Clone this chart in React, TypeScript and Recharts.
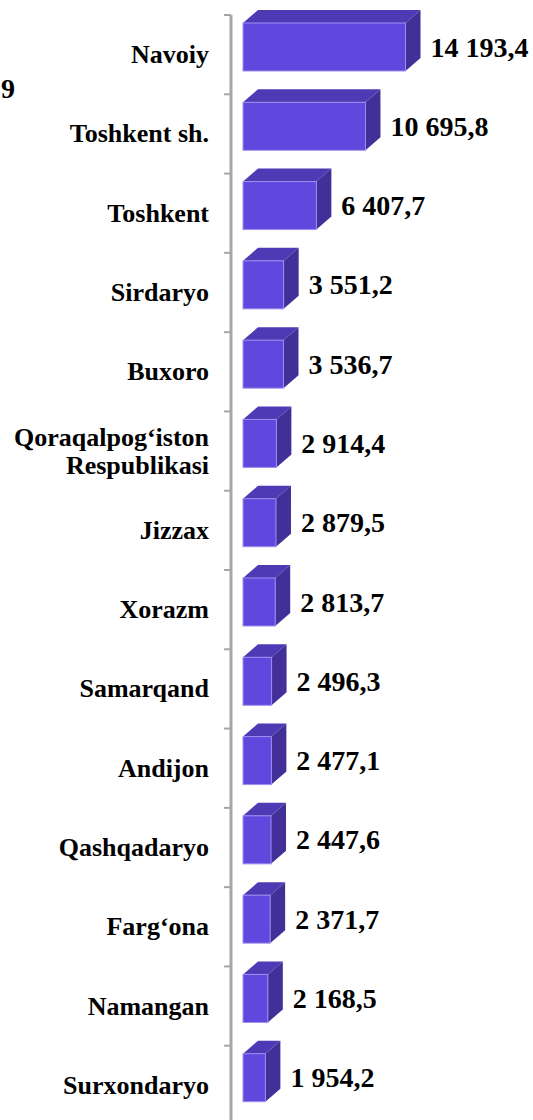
import React from "react";
import { BarChart, Bar, XAxis, YAxis, LabelList } from "recharts";

const categories: string[] = [
  "Navoiy",
  "Toshkent sh.",
  "Toshkent",
  "Sirdaryo",
  "Buxoro",
  "Qoraqalpog‘iston\nRespublikasi",
  "Jizzax",
  "Xorazm",
  "Samarqand",
  "Andijon",
  "Qashqadaryo",
  "Farg‘ona",
  "Namangan",
  "Surxondaryo",
];

const values: number[] = [
  14193.4, 10695.8, 6407.7, 3551.2, 3536.7, 2914.4, 2879.5, 2813.7, 2496.3,
  2477.1, 2447.6, 2371.7, 2168.5, 1954.2,
];

const clippedTitle = "9";

const data = categories.map((name, i) => ({ name, value: values[i] }));

const W = 533;
const H = 1125;
const MARGIN = { top: 15, right: 61, bottom: 0, left: 0 };
const Y_AXIS_W = 231;
const AXIS_X = MARGIN.left + Y_AXIS_W;
const BAND = (H - MARGIN.top - MARGIN.bottom) / categories.length;
const FONT = "'Liberation Serif', 'DejaVu Serif', serif";

const DX = 15;
const DY = 13;
const LIFT = 8;

const fmt = (v: number) => {
  const [int, dec] = v.toFixed(1).split(".");
  return int.replace(/\B(?=(\d{3})+(?!\d))/g, " ") + "," + dec;
};

const Bar3D = (props: any) => {
  const { x, y: y0, width, height } = props;
  const y = y0 - LIFT;
  const top = `${x},${y} ${x + DX},${y - DY} ${x + width + DX},${y - DY} ${x + width},${y}`;
  const side = `${x + width},${y} ${x + width + DX},${y - DY} ${x + width + DX},${y + height - DY} ${x + width},${y + height}`;
  return (
    <g>
      <polygon points={top} fill="#4F3AB6" />
      <polygon points={side} fill="#422F98" />
      <rect x={x} y={y} width={width} height={height} fill="#6047DD" stroke="#9D8EF2" strokeWidth={1} />
    </g>
  );
};

const ValueLabel = (props: any) => {
  const { x, y, width, height, value } = props;
  return (
    <text
      x={x + width + DX + 10}
      y={y + height / 2 - LIFT}
      dominantBaseline="central"
      fontFamily={FONT}
      fontWeight="bold"
      fontSize={28}
      fill="#000"
    >
      {fmt(value)}
    </text>
  );
};

const CategoryTick = (props: any) => {
  const { y, payload } = props;
  const lines: string[] = String(payload.value).split("\n");
  const lh = 28;
  const start = -((lines.length - 1) / 2) * lh;
  return (
    <g>
      <line x1={AXIS_X - 7} x2={AXIS_X} y1={y - BAND / 2} y2={y - BAND / 2} stroke="#A6A6A6" strokeWidth={2} />
      <text
        x={AXIS_X - 22}
        y={y}
        textAnchor="end"
        fontFamily={FONT}
        fontWeight="bold"
        fontSize={26}
        fill="#000"
      >
        {lines.map((l, i) => (
          <tspan key={i} x={AXIS_X - 22} y={y + start + i * lh} dominantBaseline="central">
            {l}
          </tspan>
        ))}
      </text>
    </g>
  );
};

export default function App() {
  return (
    <div
      style={{
        position: "absolute",
        left: 0,
        top: 0,
        width: W,
        height: 1120,
        overflow: "hidden",
        background: "#fff",
      }}
    >
      <div
        style={{
          position: "absolute",
          left: 1,
          top: 75,
          fontFamily: FONT,
          fontWeight: "bold",
          fontSize: 28,
          lineHeight: "28px",
        }}
      >
        {clippedTitle}
      </div>
      <BarChart width={W} height={H} data={data} layout="vertical" margin={MARGIN}>
        <XAxis type="number" hide domain={[0, 20000]} padding={{ left: 12, right: 0 }} />
        <YAxis
          type="category"
          dataKey="name"
          width={Y_AXIS_W}
          axisLine={{ stroke: "#A6A6A6", strokeWidth: 3 }}
          tickLine={false}
          interval={0}
          tick={<CategoryTick />}
        />
        <Bar dataKey="value" barSize={48} shape={<Bar3D />} isAnimationActive={false}>
          <LabelList dataKey="value" content={<ValueLabel />} />
        </Bar>
      </BarChart>
    </div>
  );
}
